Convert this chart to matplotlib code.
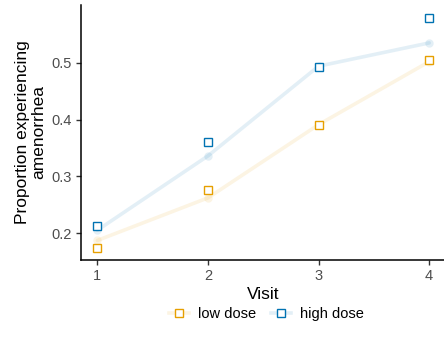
import matplotlib.pyplot as plt
from matplotlib.lines import Line2D

plt.rcParams["font.family"] = ["Liberation Sans", "DejaVu Sans"]

visits = [1, 2, 3, 4]
groups = ["low dose", "high dose"]
colors = {"low dose": "#E69F00", "high dose": "#0072B2"}

# observed proportions (squares)
observed = {
    "low dose": [0.173, 0.275, 0.391, 0.505],
    "high dose": [0.212, 0.361, 0.493, 0.578],
}
# fitted proportions (faint line + dots)
fitted = {
    "low dose": [0.187, 0.262, 0.391, 0.502],
    "high dose": [0.205, 0.336, 0.494, 0.535],
}

fig = plt.figure(figsize=(4.44, 3.48), dpi=100)
ax = fig.add_axes([0.182, 0.253, 0.822, 0.733])

for g in groups:
    c = colors[g]
    ax.plot(visits, fitted[g], color=c, alpha=0.11, lw=2.6, solid_capstyle="round",
            marker="o", ms=6, mec="none", zorder=1)
    ax.plot(visits, observed[g], ls="none", marker="s", ms=6.2, mfc="white",
            mec=c, mew=1.0, zorder=3)

ax.set_xlim(0.85, 4.15)
ax.set_ylim(0.1526, 0.602)
ax.set_xticks(visits)
ax.set_yticks([0.2, 0.3, 0.4, 0.5])
ax.set_yticklabels(["0.2", "0.3", "0.4", "0.5"])

for s in ["top", "right"]:
    ax.spines[s].set_visible(False)
for s in ["left", "bottom"]:
    ax.spines[s].set_linewidth(1.1)
    ax.spines[s].set_color("black")
ax.tick_params(axis="both", labelsize=10.5, labelcolor="#4D4D4D", color="#333333",
               length=3.5, width=1.0, pad=3)

ax.set_xlabel("Visit", fontsize=12.5, labelpad=3)
ax.set_ylabel("Proportion experiencing\namenorrhea", fontsize=12.5, labelpad=4,
              linespacing=1.1, multialignment="center")

handles = []
for g in groups:
    handles.append((Line2D([], [], color=colors[g], alpha=0.11, lw=2.6, marker="o", ms=6,
                           mec="none"),
                    Line2D([], [], ls="none", marker="s", ms=6.2, mfc="white",
                           mec=colors[g], mew=1.0)))
fig.legend(handles, groups, loc="center", bbox_to_anchor=(0.6, 0.098), ncol=2,
           frameon=False, fontsize=10.5, handlelength=1.4, handletextpad=0.6,
           columnspacing=1.0)

fig.savefig("out.png", dpi=100)
